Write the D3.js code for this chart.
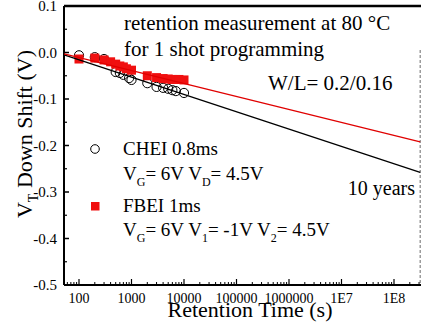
<!DOCTYPE html>
<html>
<head>
<meta charset="utf-8">
<script src="https://cdn.jsdelivr.net/npm/d3@7/dist/d3.min.js"></script>
<style>
  html, body { margin: 0; padding: 0; background: #fff; }
  svg { display: block; }
</style>
</head>
<body>
<svg id="chart" width="421" height="324" font-family="'Liberation Serif', 'Times New Roman', 'DejaVu Serif', serif"></svg>
<script>
// Retention time (s) and threshold-voltage shift (V), CHEI programming
const cheiTime  = [100, 200, 300, 500, 600, 700, 900, 1000, 2000, 3000, 4000, 5000, 6000, 7000, 10000];
const cheiShift = [-0.006, -0.010, -0.014, -0.042, -0.044, -0.048, -0.055, -0.059, -0.066, -0.074, -0.076, -0.078, -0.081, -0.083, -0.087];

// FBEI programming
const fbeiTime  = [100, 200, 300, 400, 500, 600, 700, 800, 1000, 2000, 3000, 4000, 5000, 6000, 7000, 8000, 10000];
const fbeiShift = [-0.014, -0.012, -0.016, -0.020, -0.025, -0.029, -0.031, -0.035, -0.038, -0.050, -0.054, -0.056, -0.057, -0.058, -0.058, -0.058, -0.059];

// Log-linear extrapolation lines out to 10 years (endpoints)
const fitTime      = [52, 3.15e8];
const cheiFitShift = [-0.005, -0.258];
const fbeiFitShift = [-0.003, -0.192];
const tenYears = 3.15e8;

// Axis ticks
const xTickValues = [100, 1000, 10000, 100000, 1000000, 1e7, 1e8];
const xTickLabels = ["100", "1000", "10000", "100000", "1000000", "1E7", "1E8"];
const yTickValues = [0.1, 0.0, -0.1, -0.2, -0.3, -0.4, -0.5];
const yTickLabels = ["0.1", "0.0", "-0.1", "-0.2", "-0.3", "-0.4", "-0.5"];

const svg = d3.select("#chart");
const plotLeft = 64, plotTop = 6, plotBottom = 285;

const x = d3.scaleLog()
  .domain([Math.pow(10, 2 - 15 / 52.5), 1e9])
  .range([plotLeft, 79 + 7 * 52.5]);
const y = d3.scaleLinear().domain([0.1, -0.5]).range([plotTop, plotBottom]);
const plotRight = x.range()[1];

// Frame
svg.append("line").attr("x1", plotLeft).attr("x2", plotRight).attr("y1", plotTop).attr("y2", plotTop)
  .attr("stroke", "#000").attr("stroke-width", 2.5);
svg.append("line").attr("x1", plotLeft).attr("x2", plotLeft).attr("y1", plotTop).attr("y2", plotBottom)
  .attr("stroke", "#000").attr("stroke-width", 2);
svg.append("line").attr("x1", plotLeft).attr("x2", plotRight).attr("y1", plotBottom).attr("y2", plotBottom)
  .attr("stroke", "#000").attr("stroke-width", 2);

// X axis ticks (inward), decades plus 2..9 minors
const xMinor = [];
for (let e = 1; e <= 8; e++) {
  for (let m = 2; m <= 9; m++) {
    const v = m * Math.pow(10, e);
    if (v >= x.domain()[0] && v <= x.domain()[1]) xMinor.push(v);
  }
}
svg.append("g").selectAll("line").data(xMinor).join("line")
  .attr("x1", d => x(d)).attr("x2", d => x(d))
  .attr("y1", plotBottom).attr("y2", plotBottom - 3)
  .attr("stroke", "#000").attr("stroke-width", 1);
svg.append("g").selectAll("line").data(xTickValues).join("line")
  .attr("x1", d => x(d)).attr("x2", d => x(d))
  .attr("y1", plotBottom).attr("y2", plotBottom - 6)
  .attr("stroke", "#000").attr("stroke-width", 1.2);
svg.append("g").selectAll("text").data(xTickValues).join("text")
  .attr("x", d => x(d)).attr("y", 303)
  .attr("text-anchor", "middle").attr("font-size", 14)
  .text((d, i) => xTickLabels[i]);

// Y axis ticks (inward), majors at 0.1, minors at 0.05
const yMinor = d3.range(-0.45, 0.1, 0.1);
svg.append("g").selectAll("line").data(yMinor).join("line")
  .attr("x1", plotLeft).attr("x2", plotLeft + 3)
  .attr("y1", d => y(d)).attr("y2", d => y(d))
  .attr("stroke", "#000").attr("stroke-width", 1.2);
svg.append("g").selectAll("line").data(yTickValues).join("line")
  .attr("x1", plotLeft).attr("x2", plotLeft + 5)
  .attr("y1", d => y(d)).attr("y2", d => y(d))
  .attr("stroke", "#000").attr("stroke-width", 1.5);
svg.append("g").selectAll("text").data(yTickValues).join("text")
  .attr("x", 57).attr("y", d => y(d))
  .attr("dy", "0.35em")
  .attr("text-anchor", "end").attr("font-size", 15)
  .text((d, i) => yTickLabels[i]);

// 10-year marker
svg.append("line")
  .attr("x1", x(tenYears)).attr("x2", x(tenYears))
  .attr("y1", 50).attr("y2", plotBottom)
  .attr("stroke", "#444").attr("stroke-width", 0.8)
  .attr("stroke-dasharray", "3,2");

// Axis titles
svg.append("text").attr("x", 250).attr("y", 317)
  .attr("text-anchor", "middle").attr("font-size", 22)
  .text("Retention Time (s)");

const yTitle = svg.append("text")
  .attr("transform", "translate(32,134) rotate(-90)")
  .attr("text-anchor", "middle").attr("font-size", 22);
yTitle.append("tspan").text("V");
yTitle.append("tspan").attr("font-size", 14).attr("dy", 6).text("T");
yTitle.append("tspan").attr("dy", -6).text(" Down Shift (V)");

// Data markers
svg.append("g").selectAll("circle").data(cheiTime).join("circle")
  .attr("cx", d => x(d)).attr("cy", (d, i) => y(cheiShift[i]))
  .attr("r", 4.6)
  .attr("fill", "none").attr("stroke", "#000").attr("stroke-width", 1);

svg.append("g").selectAll("rect").data(fbeiTime).join("rect")
  .attr("x", d => x(d) - 4.5).attr("y", (d, i) => y(fbeiShift[i]) - 4.5)
  .attr("width", 9).attr("height", 9)
  .attr("fill", "#f01010");

// Extrapolation lines
const line = d3.line().x(d => x(d[0])).y(d => y(d[1]));
svg.append("path")
  .attr("d", line(fitTime.map((t, i) => [t, cheiFitShift[i]])))
  .attr("fill", "none").attr("stroke", "#000").attr("stroke-width", 1.3);
svg.append("path")
  .attr("d", line(fitTime.map((t, i) => [t, fbeiFitShift[i]])))
  .attr("fill", "none").attr("stroke", "#e00000").attr("stroke-width", 1.3);

// Annotations
svg.append("text").attr("x", 124).attr("y", 30).attr("font-size", 21)
  .text("retention measurement at 80 \u00B0C");
svg.append("text").attr("x", 124).attr("y", 56).attr("font-size", 21)
  .text("for 1 shot programming");
svg.append("text").attr("x", 268).attr("y", 90).attr("font-size", 21)
  .text("W/L= 0.2/0.16");
svg.append("text").attr("x", 415).attr("y", 195).attr("font-size", 20)
  .attr("text-anchor", "end").text("10 years");

// Legend
svg.append("circle").attr("cx", 95).attr("cy", 149).attr("r", 4.3)
  .attr("fill", "none").attr("stroke", "#000").attr("stroke-width", 1);
svg.append("rect").attr("x", 91).attr("y", 202).attr("width", 8.5).attr("height", 8.5)
  .attr("fill", "#f01010");

function subLine(yPos, parts) {
  const t = svg.append("text").attr("x", 123).attr("y", yPos).attr("font-size", 19);
  parts.forEach(p => {
    if (p.sub) {
      t.append("tspan").attr("font-size", 12).attr("dy", 6).text(p.sub);
    } else {
      t.append("tspan").attr("dy", p.after ? -6 : 0).text(p.txt);
    }
  });
}
svg.append("text").attr("x", 123).attr("y", 155).attr("font-size", 19).text("CHEI 0.8ms");
subLine(180, [{txt: "V"}, {sub: "G"}, {txt: "= 6V V", after: true}, {sub: "D"}, {txt: "= 4.5V", after: true}]);
svg.append("text").attr("x", 123).attr("y", 212).attr("font-size", 19).text("FBEI 1ms");
subLine(236, [{txt: "V"}, {sub: "G"}, {txt: "= 6V V", after: true}, {sub: "1"}, {txt: "= -1V V", after: true}, {sub: "2"}, {txt: "= 4.5V", after: true}]);
</script>
</body>
</html>
